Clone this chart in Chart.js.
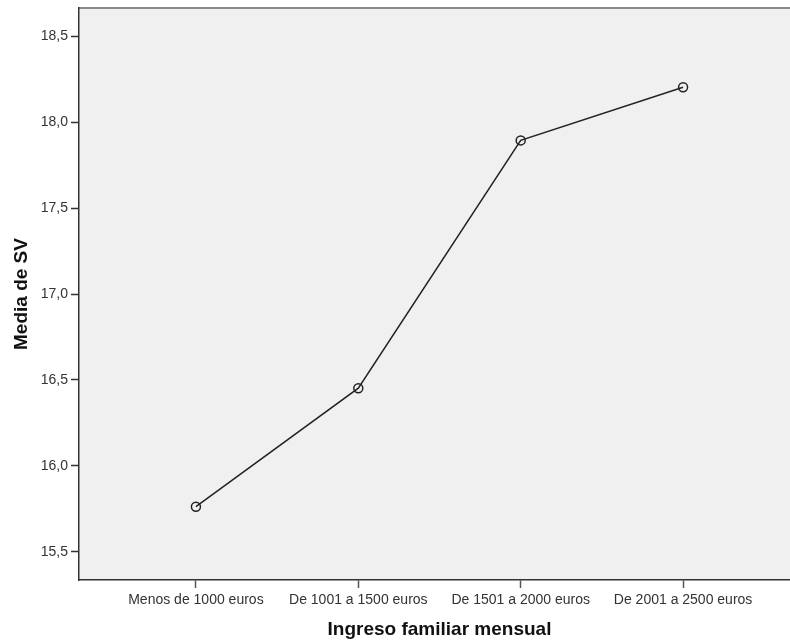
<!DOCTYPE html>
<html>
<head>
<meta charset="utf-8">
<script src="https://cdn.jsdelivr.net/npm/chart.js@4"></script>
<style>
  html, body { margin: 0; padding: 0; background: #fff; overflow: hidden; }
  #wrap { width: 790px; height: 641px; overflow: hidden; }
</style>
</head>
<body>
<div id="wrap"><canvas id="chart" width="806" height="641"></canvas></div>
<script>
// data
const categories = ["Menos de 1000 euros", "De 1001 a 1500 euros", "De 1501 a 2000 euros", "De 2001 a 2500 euros"];
const means = [15.762, 16.452, 17.895, 18.205];
const yTicks = [15.5, 16.0, 16.5, 17.0, 17.5, 18.0, 18.5];

// plot background + top frame line
const frame = {
  id: "frame",
  beforeDraw(chart) {
    const { ctx, chartArea: a } = chart;
    ctx.save();
    ctx.fillStyle = "#f0f0f0";
    ctx.fillRect(a.left, a.top, a.right - a.left, a.bottom - a.top);
    ctx.strokeStyle = "#8a8a8a";
    ctx.lineWidth = 2;
    ctx.beginPath();
    ctx.moveTo(a.left, a.top);
    ctx.lineTo(a.right, a.top);
    ctx.stroke();
    ctx.restore();
  }
};

const tickFont = { family: "'Liberation Sans', Arial, sans-serif", size: 14, lineHeight: 1 };
const titleFont = { family: "'Liberation Sans', Arial, sans-serif", size: 19, weight: "bold" };

new Chart(document.getElementById("chart"), {
  type: "line",
  data: {
    datasets: [{
      data: means.map((v, i) => ({ x: i, y: v })),
      borderColor: "#222",
      borderWidth: 1.5,
      pointRadius: 4.5,
      pointBorderWidth: 1.5,
      pointBorderColor: "#222",
      pointBackgroundColor: "rgba(0,0,0,0)",
      tension: 0
    }]
  },
  options: {
    responsive: false,
    animation: false,
    layout: { padding: { top: 8, right: 0, left: 0, bottom: 0 } },
    plugins: { legend: { display: false }, tooltip: { enabled: false } },
    scales: {
      x: {
        type: "linear",
        min: -0.72,
        max: 3.72,
        afterBuildTicks: s => { s.ticks = categories.map((c, i) => ({ value: i })); },
        afterFit: s => { s.height = 61; },
        grid: { drawOnChartArea: false, tickLength: 8, color: "#555", tickWidth: 1.5 },
        border: { color: "#333", width: 1.5 },
        ticks: {
          color: "#333",
          font: tickFont,
          padding: 5,
          maxRotation: 0,
          autoSkip: false,
          callback: v => categories[v]
        },
        title: { display: true, text: "Ingreso familiar mensual", color: "#111", font: titleFont, padding: { top: 0, bottom: 0 } }
      },
      y: {
        min: 15.335,
        max: 18.666,
        afterBuildTicks: s => { s.ticks = yTicks.map(v => ({ value: v })); },
        afterFit: s => { s.width = 79; s.paddingTop = 0; s.paddingBottom = 0; },
        grid: { drawOnChartArea: false, tickLength: 8, color: "#333", tickWidth: 1.5 },
        border: { color: "#333", width: 1.5 },
        ticks: {
          color: "#333",
          font: tickFont,
          padding: 3,
          callback: v => v.toFixed(1).replace(".", ",")
        },
        title: { display: true, text: "Media de SV", color: "#111", font: titleFont, padding: { top: 10, bottom: 10 } }
      }
    }
  },
  plugins: [frame]
});
</script>
</body>
</html>
